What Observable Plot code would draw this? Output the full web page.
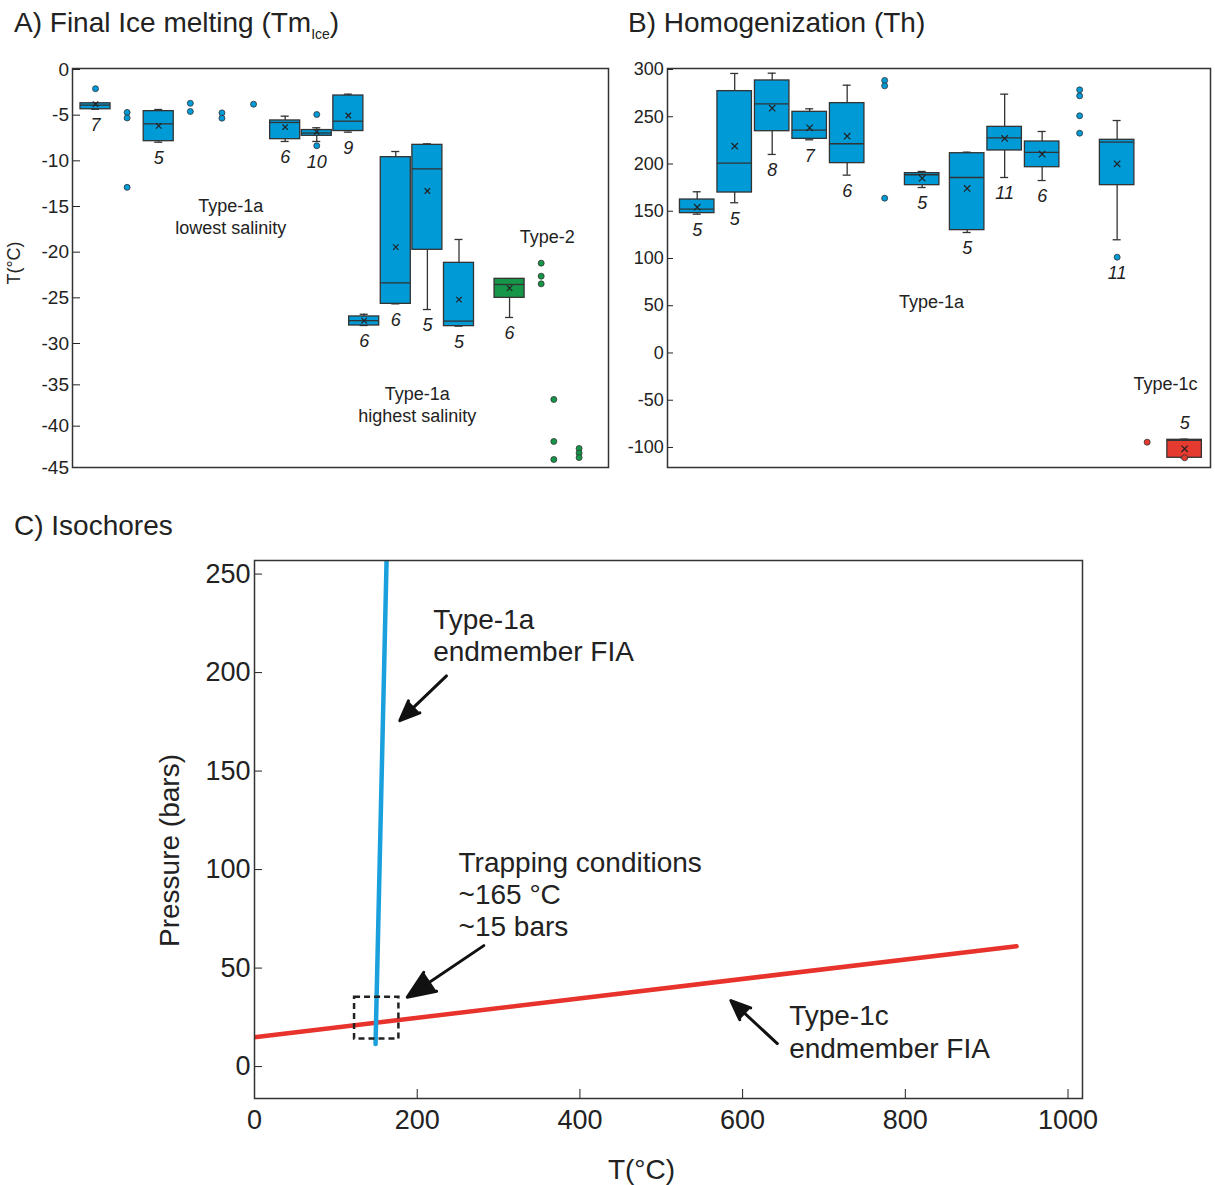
<!DOCTYPE html>
<html>
<head>
<meta charset="utf-8">
<script src="https://cdn.jsdelivr.net/npm/d3@7"></script>
<script src="https://cdn.jsdelivr.net/npm/@observablehq/plot@0.6"></script>
<style>
  body { margin: 0; background: #fff; }
  #fig { position: relative; width: 1215px; height: 1185px; font-family: "Liberation Sans", Arial, sans-serif; color: #222; }
  .panel { position: absolute; }
  .title { position: absolute; font-size: 28px; line-height: 28px; white-space: nowrap; z-index: 2; }
  .sub { font-size: 14px; position: relative; top: 7px; }
</style>
</head>
<body>
<div id="fig">
  <div class="panel" id="pa" style="left:0;top:0;width:615px"></div>
  <div class="panel" id="pb" style="left:615px;top:0;width:600px"></div>
  <div class="panel" id="pc" style="left:0;top:480px;width:1215px"></div>
  <div class="title" style="left:14px;top:9px">A) Final Ice melting (Tm<span class="sub">Ice</span>)</div>
  <div class="title" style="left:628px;top:9px">B) Homogenization (Th)</div>
  <div class="title" style="left:14px;top:512px">C) Isochores</div>
</div>
<script>
const FONT = '"Liberation Sans", Arial, sans-serif';

// ---------- A) Final ice melting, box summaries per FIA (°C) ----------
const tmColumn = [1, 3, 7, 8, 9, 9.5, 10.5, 11.5, 12.5, 14.1];
const tmType   = ["1a", "1a", "1a", "1a", "1a", "1a", "1a", "1a", "1a", "2"];
const tmLow    = [-4.35, -7.96, -7.88, -7.88, -6.86, -28.03, -25.66, -26.28, -28.1, -27.15];
const tmQ1     = [-4.35, -7.85, -7.63, -7.26, -6.74, -28.03, -25.66, -19.74, -28.1, -25.0];
const tmMedian = [-3.9, -5.95, -5.8, -6.95, -5.66, -27.5, -23.36, -10.88, -27.55, -23.54];
const tmQ3     = [-3.7, -4.56, -5.58, -6.63, -2.85, -27.04, -9.6, -8.25, -21.17, -22.92];
const tmHigh   = [-3.7, -4.38, -5.11, -6.38, -2.7, -26.8, -8.98, -8.14, -18.61, -22.92];
const tmMean   = [-3.8, -6.17, -6.3, -6.82, -5.04, -27.5, -19.45, -13.3, -25.2, -23.94];
const tmCount  = [7, 5, 6, 10, 9, 6, 6, 5, 5, 6];

// single measurements and outliers
const tmOutColumn = [1, 2, 2, 2, 4, 4, 5, 5, 6, 8, 8, 15.1, 15.1, 15.1, 15.5, 15.5, 15.5, 16.3, 16.3, 16.3];
const tmOutValue  = [-2.1, -4.7, -5.3, -12.9, -3.7, -4.6, -4.75, -5.33, -3.8, -4.93, -8.35,
                     -21.2, -22.63, -23.47, -36.77, -41.85, -44.03, -42.7, -43.25, -43.8];
const tmOutType   = ["1a", "1a", "1a", "1a", "1a", "1a", "1a", "1a", "1a", "1a", "1a",
                     "2", "2", "2", "2", "2", "2", "2", "2", "2"];
const tmTicks = [0, -5, -10, -15, -20, -25, -30, -35, -40, -45];
const tmNoteText   = ["Type-1a\nlowest salinity", "Type-2", "Type-1a\nhighest salinity"];
const tmNoteColumn = [5.28, 15.29, 11.18];
const tmNoteValue  = [-16.0, -18.2, -37.26];

// ---------- B) Homogenization, box summaries per FIA (°C) ----------
const thColumn = [1, 2, 3, 4, 5, 7, 8.2, 9.2, 10.2, 12.2, 14];
const thType   = ["1a", "1a", "1a", "1a", "1a", "1a", "1a", "1a", "1a", "1a", "1c"];
const thLow    = [146.9, 159, 210.1, 225.6, 188.2, 175.1, 127.5, 185.7, 182.5, 119.8, -110.9];
const thQ1     = [148.0, 169.8, 234.7, 226.6, 200.9, 177.6, 130.0, 214.3, 196.6, 177.6, -110.9];
const thMedian = [152.2, 200.9, 263.7, 235.8, 221.4, 188.6, 185.7, 227.7, 212.2, 223.1, -92.5];
const thQ3     = [162.4, 277.1, 288.4, 255.2, 264.4, 190.3, 211.4, 239.3, 223.8, 225.6, -91.9];
const thHigh   = [170.6, 295.8, 296.1, 258.4, 283.4, 192.1, 212.5, 273.9, 234.4, 246.0, -91.2];
const thMean   = [154.3, 218.8, 259.1, 238.3, 229.4, 185.0, 174.1, 227.0, 210.4, 200.2, -101.4];
const thCount  = [5, 5, 8, 7, 6, 5, 5, 11, 6, 11, 5];

const thOutColumn = [6, 6, 6, 11.2, 11.2, 11.2, 11.2, 12.2, 13, 14];
const thOutValue  = [288.4, 282.7, 163.8, 278.5, 272.1, 251.0, 232.6, 101.4, -94.4, -110.9];
const thOutType   = ["1a", "1a", "1a", "1a", "1a", "1a", "1a", "1a", "1c", "1c"];
const thTicks = [300, 250, 200, 150, 100, 50, 0, -50, -100];
const thNoteText   = ["Type-1a", "Type-1c"];
const thNoteColumn = [7.25, 13.49];
const thNoteValue  = [53.4, -33.3];

// ---------- C) Isochores ----------
const iso1aT = [148.8, 162.4];
const iso1aP = [11.5, 258];
const iso1cT = [0, 936.7];
const iso1cP = [14.9, 61.1];
const trapT = [123, 177.5];
const trapP = [14, 35.2];
const arrowFromT = [236, 281.9, 642.7];
const arrowFromP = [198.3, 61.4, 11.7];
const arrowToT   = [178.6, 187.7, 585.6];
const arrowToP   = [175.6, 35.2, 33.5];
const isoNoteText = ["Type-1a\nendmember FIA", "Trapping conditions\n~165 °C\n~15 bars", "Type-1c\nendmember FIA"];
const isoNoteT = [219.6, 250.8, 657.2];
const isoNoteP = [233.8, 110.5, 32.5];
const tTicks = [0, 200, 400, 600, 800, 1000];
const pTicks = [0, 50, 100, 150, 200, 250];

const typeColor = {"1a": "#009ad6", "2": "#159648", "1c": "#e53a2f"};

function boxes(column, type, low, q1, median, q3, high, mean, n) {
  return column.map((c, i) => ({column: c, type: type[i], low: low[i], q1: q1[i], median: median[i],
    q3: q3[i], high: high[i], mean: mean[i], n: n[i]}));
}
function points(column, value, type) {
  return column.map((c, i) => ({column: c, value: value[i], type: type[i]}));
}

// Box-and-whisker marks drawn from summary statistics
function boxMarks(B, O, {half, cap, meanR}) {
  const lowest = d => Math.min(d.low, ...O.filter(o => o.column === d.column).map(o => o.value));
  const below = B.filter(d => d.type !== "1c");
  const above = B.filter(d => d.type === "1c");
  const ink = {stroke: "#333", strokeWidth: 1.3};
  return [
    Plot.ruleX(B, {x: "column", y1: "low", y2: "high", ...ink}),
    Plot.ruleY(B, {y: "low", x1: d => d.column - cap, x2: d => d.column + cap, ...ink}),
    Plot.ruleY(B, {y: "high", x1: d => d.column - cap, x2: d => d.column + cap, ...ink}),
    Plot.rect(B, {x1: d => d.column - half, x2: d => d.column + half, y1: "q1", y2: "q3",
      fill: d => typeColor[d.type], ...ink}),
    Plot.ruleY(B, {y: "median", x1: d => d.column - half, x2: d => d.column + half, ...ink}),
    Plot.dot(B, {x: "column", y: "mean", symbol: "times", r: meanR, stroke: "#222", strokeWidth: 1.2}),
    Plot.dot(O, {x: "column", y: "value", r: 3, fill: d => typeColor[d.type], stroke: "#333", strokeWidth: 0.8}),
    Plot.text(below, {x: "column", y: lowest, text: "n", dy: 16, fontStyle: "italic", fontSize: 18, fill: "#222"}),
    Plot.text(above, {x: "column", y: "high", text: "n", dy: -16, fontStyle: "italic", fontSize: 18, fill: "#222"})
  ];
}

const style = {background: "transparent", fontFamily: FONT, color: "#222", overflow: "visible", maxWidth: "none"};

// Panel A (piecewise y scale: the axis is compressed below -30 °C)
const tmBoxes = boxes(tmColumn, tmType, tmLow, tmQ1, tmMedian, tmQ3, tmHigh, tmMean, tmCount);
const tmPoints = points(tmOutColumn, tmOutValue, tmOutType);
const plotA = Plot.plot({
  width: 615, height: 480,
  marginLeft: 72, marginRight: 7, marginTop: 68, marginBottom: 13,
  style,
  x: {type: "linear", domain: [0.272, 17.23], axis: null},
  y: {type: "linear", domain: [-45, -30, 0], range: [467, 343, 69]},
  color: {type: "identity"},
  marks: [
    Plot.axisY(tmTicks, {tickSize: -8, tickPadding: 11.5, tickFormat: d => String(d), fontSize: 19, label: null}),
    ...boxMarks(tmBoxes, tmPoints, {half: 0.475, cap: 0.127, meanR: 2.6}),
    Plot.text(tmNoteText, {x: (d, i) => tmNoteColumn[i], y: (d, i) => tmNoteValue[i], text: d => d,
      fontSize: 18, lineHeight: 1.22, fill: "#222"}),
    Plot.text(["T(°C)"], {frameAnchor: "left", text: d => d, rotate: -90, dx: -58, dy: -5,
      textAnchor: "middle", lineAnchor: "middle", fontSize: 18, fill: "#222"}),
    Plot.frame({stroke: "#333", strokeWidth: 1.5})
  ]
});
document.getElementById("pa").append(plotA);

// Panel B
const thBoxes = boxes(thColumn, thType, thLow, thQ1, thMedian, thQ3, thHigh, thMean, thCount);
const thPoints = points(thOutColumn, thOutValue, thOutType);
const plotB = Plot.plot({
  width: 600, height: 480,
  marginLeft: 52, marginRight: 5, marginTop: 68, marginBottom: 13,
  style,
  x: {type: "linear", domain: [0.208, 14.69], axis: null},
  y: {type: "linear", domain: [-121.2, 301.06]},
  color: {type: "identity"},
  marks: [
    Plot.axisY(thTicks, {tickSize: -6, tickPadding: 9.7, tickFormat: d => String(d), fontSize: 18, label: null}),
    ...boxMarks(thBoxes, thPoints, {half: 0.46, cap: 0.107, meanR: 3.0}),
    Plot.text(thNoteText, {x: (d, i) => thNoteColumn[i], y: (d, i) => thNoteValue[i], text: d => d,
      fontSize: 18, fill: "#222"}),
    Plot.frame({stroke: "#333", strokeWidth: 1.5})
  ]
});
document.getElementById("pb").append(plotB);

// Panel C
const line1a = iso1aT.map((t, i) => ({T: t, P: iso1aP[i]}));
const line1c = iso1cT.map((t, i) => ({T: t, P: iso1cP[i]}));
const arrows = arrowFromT.map((t, i) => ({x1: t, y1: arrowFromP[i], x2: arrowToT[i], y2: arrowToP[i]}));
const notes = isoNoteText.map((s, i) => ({text: s, T: isoNoteT[i], P: isoNoteP[i]}));
const plotC = Plot.plot({
  width: 1215, height: 705,
  marginLeft: 254, marginRight: 133, marginTop: 80, marginBottom: 87,
  style,
  x: {type: "linear", domain: [0, 1017.8]},
  y: {type: "linear", domain: [-16.2, 256.9]},
  marks: [
    Plot.axisX(tTicks, {tickSize: -9, tickPadding: 20, tickFormat: d => String(d), fontSize: 27, label: null}),
    Plot.axisY(pTicks, {tickSize: -8, tickPadding: 12, tickFormat: d => String(d), fontSize: 27, label: null}),
    Plot.line(line1c, {x: "T", y: "P", stroke: "#e8322c", strokeWidth: 4.5, clip: true}),
    Plot.line(line1a, {x: "T", y: "P", stroke: "#1aa0dc", strokeWidth: 4.5, clip: true}),
    Plot.rect([0], {x1: () => trapT[0], x2: () => trapT[1], y1: () => trapP[0], y2: () => trapP[1],
      fill: "none", stroke: "#222", strokeWidth: 2.5, strokeDasharray: "6,4"}),
    Plot.arrow(arrows, {x1: "x1", y1: "y1", x2: "x2", y2: "y2", stroke: "#111", fill: "#111",
      strokeWidth: 3, headLength: 15, headAngle: 45}),
    Plot.text(notes, {x: "T", y: "P", text: "text", textAnchor: "start", lineAnchor: "top",
      fontSize: 28, lineHeight: 1.15, fill: "#222"}),
    Plot.text(["Pressure (bars)"], {frameAnchor: "left", text: d => d, rotate: -90, dx: -84, dy: 21,
      textAnchor: "middle", lineAnchor: "middle", fontSize: 28, fill: "#222"}),
    Plot.text(["T(°C)"], {frameAnchor: "bottom", text: d => d, dx: -27, dy: 72,
      textAnchor: "middle", lineAnchor: "middle", fontSize: 28, fill: "#222"}),
    Plot.frame({stroke: "#333", strokeWidth: 1.5})
  ]
});
document.getElementById("pc").append(plotC);
</script>
</body>
</html>
